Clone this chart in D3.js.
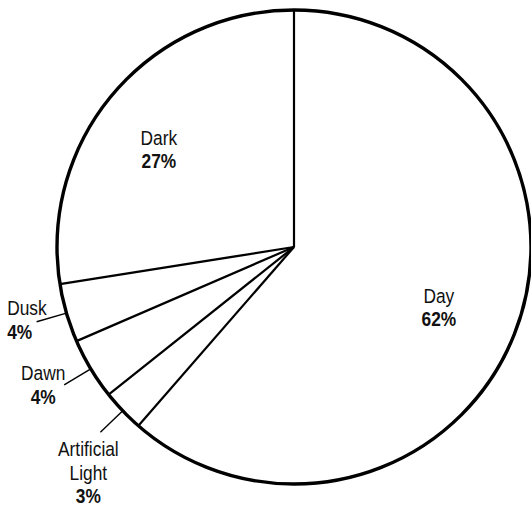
<!DOCTYPE html>
<html>
<head>
<meta charset="utf-8">
<script src="https://cdn.jsdelivr.net/npm/d3@7"></script>
<style>
  html, body { margin: 0; padding: 0; background: #fff; }
  svg { display: block; }
  text { font-family: "Liberation Sans", Arial, sans-serif; font-size: 19.5px; fill: #111; }
  .pct { font-weight: bold; }
</style>
</head>
<body>
<svg id="chart" width="531" height="512"></svg>
<script>
// Data, in clockwise order from 12 o'clock
const categories = ["Day", "Artificial Light", "Dawn", "Dusk", "Dark"];
const values = [61.4, 2.9, 4.2, 4.0, 27.5];
const pctLabels = ["62%", "3%", "4%", "4%", "27%"];
const nameLines = [["Day"], ["Artificial", "Light"], ["Dawn"], ["Dusk"], ["Dark"]];

// Layout / style (not data)
const W = 531, H = 512;
const cx = 294, cy = 247, R = 237;
const insideR = 160;
const leaderIn = 237, leaderOut = 268;
const lineH = 23.3;
const squeeze = 0.89; // condensed type look
// label placement: offsets of first baseline from centroid / leader end
const labelStyle = {
  "Day": { inside: true, anchor: "middle", dx: -5, dy: 0 },
  "Dark": { inside: true, anchor: "middle", dx: -13.5, dy: 2 },
  "Dusk": { inside: false, anchor: "start", dx: -29.5, dy: -6.3 },
  "Dawn": { inside: false, anchor: "middle", dx: -21, dy: -4.4 },
  "Artificial Light": { inside: false, anchor: "middle", dx: -12, dy: 24 }
};

const svg = d3.select("#chart");
const g = svg.append("g").attr("transform", `translate(${cx},${cy})`);

const pie = d3.pie().sort(null).value(d => d.value);
const data = categories.map((c, i) => ({ name: c, value: values[i], pct: pctLabels[i], lines: nameLines[i] }));
const arcs = pie(data);

const arc = d3.arc().innerRadius(0).outerRadius(R);

// slice fills
g.selectAll("path.slice").data(arcs).enter().append("path")
  .attr("class", "slice")
  .attr("d", arc)
  .attr("fill", "#fff")
  .attr("stroke", "none");

// radial boundary lines
g.selectAll("line.radial").data(arcs).enter().append("line")
  .attr("class", "radial")
  .attr("x1", 0).attr("y1", 0)
  .attr("x2", d => R * Math.sin(d.startAngle))
  .attr("y2", d => -R * Math.cos(d.startAngle))
  .attr("stroke", "#000")
  .attr("stroke-width", 2.2);

// outer circle
g.append("circle").attr("r", R)
  .attr("fill", "none").attr("stroke", "#000").attr("stroke-width", 3.4);

const pt = (a, r) => [r * Math.sin(a), -r * Math.cos(a)];

function addLabel(x, y, st, d) {
  const lines = d.data.lines.concat([d.data.pct]);
  const lg = g.append("g")
    .attr("transform", `translate(${x + st.dx},${y + st.dy}) scale(${squeeze},1)`);
  const t = lg.append("text").attr("text-anchor", st.anchor);
  lines.forEach((ln, i) => {
    t.append("tspan").attr("x", 0).attr("y", i * lineH)
      .attr("class", i === lines.length - 1 ? "pct" : null)
      .text(ln);
  });
}

arcs.forEach(d => {
  const st = labelStyle[d.data.name];
  const mid = (d.startAngle + d.endAngle) / 2;
  if (st.inside) {
    const [x, y] = pt(mid, insideR);
    addLabel(x, y, st, d);
  } else {
    const [x1, y1] = pt(mid, leaderIn);
    const [x2, y2] = pt(mid, leaderOut);
    g.append("line").attr("x1", x1).attr("y1", y1).attr("x2", x2).attr("y2", y2)
      .attr("stroke", "#000").attr("stroke-width", 1.4);
    addLabel(x2, y2, st, d);
  }
});
</script>
</body>
</html>
